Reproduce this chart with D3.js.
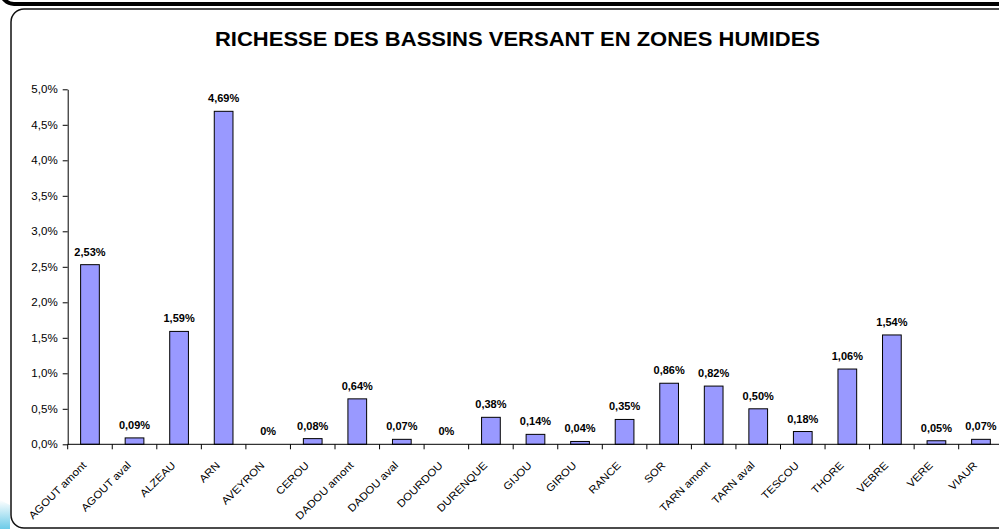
<!DOCTYPE html>
<html>
<head>
<meta charset="utf-8">
<script src="https://cdn.jsdelivr.net/npm/d3@7"></script>
<style>
  html, body { margin: 0; padding: 0; background: #fff; }
  svg { display: block; font-family: "Liberation Sans", Arial, sans-serif; }
</style>
</head>
<body>
<div id="chart"></div>
<script>
// données
const bassins = ["AGOUT amont", "AGOUT aval", "ALZEAU", "ARN", "AVEYRON", "CEROU",
  "DADOU amont", "DADOU aval", "DOURDOU", "DURENQUE", "GIJOU", "GIROU", "RANCE",
  "SOR", "TARN amont", "TARN aval", "TESCOU", "THORE", "VEBRE", "VERE", "VIAUR"];
const richesse = [0.0253, 0.0009, 0.0159, 0.0469, 0, 0.0008, 0.0064, 0.0007, 0,
  0.0038, 0.0014, 0.0004, 0.0035, 0.0086, 0.0082, 0.0050, 0.0018, 0.0106, 0.0154,
  0.0005, 0.0007];
const yTicks = [0, 0.005, 0.01, 0.015, 0.02, 0.025, 0.03, 0.035, 0.04, 0.045, 0.05];
const titre = "RICHESSE DES BASSINS VERSANT EN ZONES HUMIDES";

const W = 999, H = 529;
const x0 = 67.7, step = 44.55, yBase = 444.3, yTop = 89.3;

// format français (virgule décimale)
const fr = d3.formatLocale({decimal: ",", thousands: " ", grouping: [3], currency: ["", " €"]});
const fmtAxis = fr.format(".1%");
const fmtLabel = v => v === 0 ? "0%" : fr.format(".2%")(v);

const svg = d3.select("#chart").append("svg")
  .attr("width", W)
  .attr("height", H);

// décor : coin bleu en bas à gauche
const defs = svg.append("defs");
const grad = defs.append("linearGradient").attr("id", "bleu")
  .attr("x1", 0).attr("y1", 0).attr("x2", 0).attr("y2", 1);
grad.append("stop").attr("offset", "0%").attr("stop-color", "#ffffff");
grad.append("stop").attr("offset", "100%").attr("stop-color", "#6ccbe8");
svg.append("path")
  .attr("d", "M0,500 L10,505 L10,529 L0,529 Z")
  .attr("fill", "url(#bleu)");

// cadre du dessus (épais) et cadre du graphique
svg.append("rect")
  .attr("x", 1).attr("y", -40)
  .attr("width", W + 40).attr("height", 44)
  .attr("rx", 13)
  .attr("fill", "none")
  .attr("stroke", "#000")
  .attr("stroke-width", 4);

svg.append("rect")
  .attr("x", 11).attr("y", 9)
  .attr("width", W + 40).attr("height", 519)
  .attr("rx", 13)
  .attr("fill", "#fff")
  .attr("stroke", "#111")
  .attr("stroke-width", 1.5);

// échelles
const x = d3.scaleBand()
  .domain(bassins)
  .range([x0, x0 + step * bassins.length])
  .paddingInner(0.58)
  .paddingOuter(0.29);

const xCat = d3.scaleBand()
  .domain(bassins)
  .range([x0, x0 + step * bassins.length]);

const y = d3.scaleLinear()
  .domain([0, 0.05])
  .range([yBase, yTop]);

// titre
svg.append("text")
  .attr("class", "st")
  .attr("x", 517.5)
  .attr("y", 46)
  .attr("text-anchor", "middle")
  .attr("font-size", 20)
  .attr("font-weight", "bold")
  .text(titre);

// axe Y
svg.append("g")
  .attr("transform", `translate(${x0},0)`)
  .call(d3.axisLeft(y)
    .tickValues(yTicks)
    .tickSize(5)
    .tickSizeOuter(0)
    .tickPadding(5)
    .tickFormat(fmtAxis))
  .call(g => g.selectAll("text")
    .attr("class", "st")
    .attr("font-size", 10.5)
    .attr("fill", "#000")
    .attr("font-family", null))
  .call(g => g.selectAll("line, path").attr("stroke", "#000"));

// barres
svg.append("g")
  .selectAll("rect")
  .data(bassins)
  .join("rect")
  .attr("x", d => x(d))
  .attr("y", (d, i) => y(richesse[i]))
  .attr("width", x.bandwidth())
  .attr("height", (d, i) => yBase - y(richesse[i]))
  .attr("fill", "#9999ff")
  .attr("stroke", "#000")
  .attr("stroke-width", 1);

// étiquettes de valeurs
svg.append("g")
  .selectAll("text")
  .data(bassins)
  .join("text")
  .attr("class", "st")
  .attr("x", d => x(d) + x.bandwidth() / 2)
  .attr("y", (d, i) => y(richesse[i]) - 9)
  .attr("text-anchor", "middle")
  .attr("font-size", 10)
  .attr("font-weight", "bold")
  .text((d, i) => fmtLabel(richesse[i]));

// axe X : ligne, graduations entre catégories
const xAxis = svg.append("g");
xAxis.append("line")
  .attr("x1", x0).attr("x2", W + 10)
  .attr("y1", yBase).attr("y2", yBase)
  .attr("stroke", "#000");
xAxis.selectAll("line.tick")
  .data(bassins.concat(["__fin"]))
  .join("line")
  .attr("class", "tick")
  .attr("x1", (d, i) => i < bassins.length ? xCat(d) : xCat.range()[1])
  .attr("x2", (d, i) => i < bassins.length ? xCat(d) : xCat.range()[1])
  .attr("y1", yBase).attr("y2", yBase + 5)
  .attr("stroke", "#000");

xAxis.selectAll("text")
  .data(bassins)
  .join("text")
  .attr("class", "st")
  .attr("transform", d => `translate(${x(d) + x.bandwidth() / 2 - 3},466) rotate(-45)`)
  .attr("text-anchor", "end")
  .attr("font-size", 10.5)
  .text(d => d);

// léger étirement horizontal du texte, comme sur l'original
svg.selectAll("text.st").each(function() {
  const len = this.getComputedTextLength();
  d3.select(this)
    .attr("textLength", len * 1.1)
    .attr("lengthAdjust", "spacingAndGlyphs");
});
</script>
</body>
</html>
